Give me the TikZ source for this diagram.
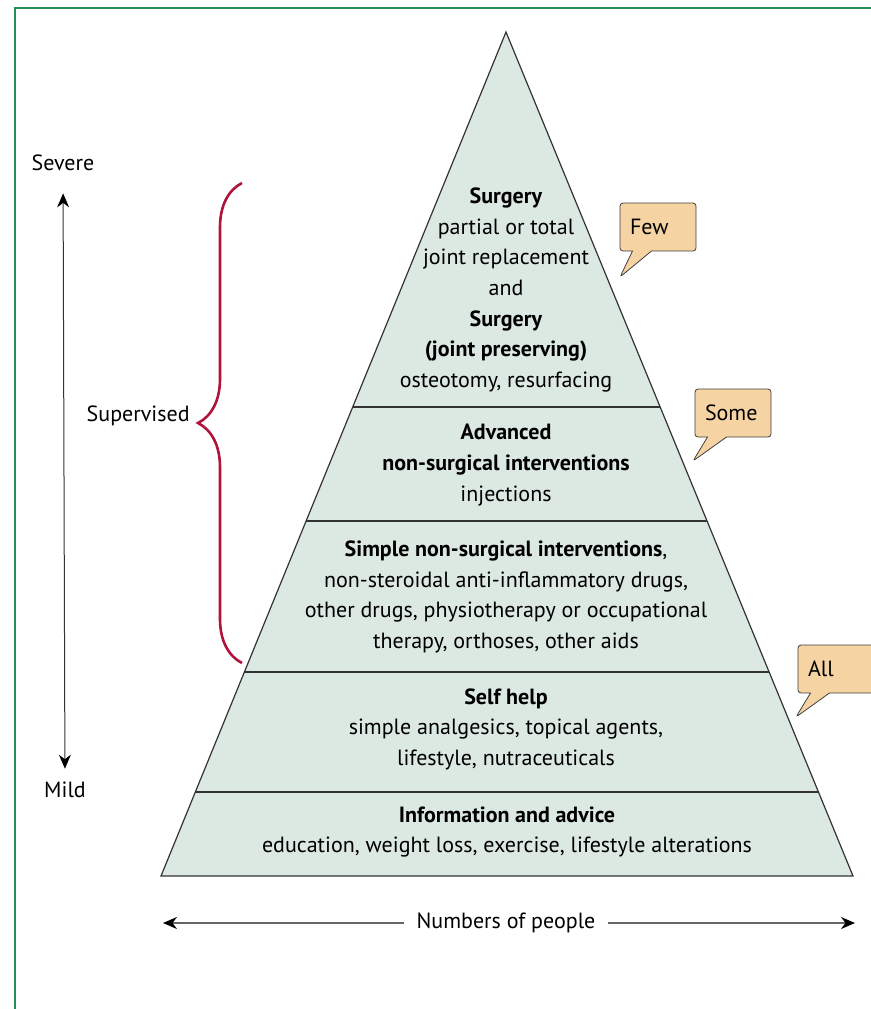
\documentclass[tikz,border=0pt]{standalone}
\usepackage{fontspec}
\setmainfont{PT Sans}
\usetikzlibrary{calc,arrows.meta,shapes.callouts,decorations.pathreplacing}

\definecolor{pyrfill}{RGB}{220,232,226}
\definecolor{bubblefill}{RGB}{246,211,163}
\definecolor{bracered}{RGB}{176,20,60}
\definecolor{framegreen}{RGB}{40,140,90}

\tikzset{
  tier/.style={align=center, inner sep=0pt, font=\fontsize{11}{15.3}\selectfont},
  sidetext/.style={inner sep=0pt, font=\fontsize{11}{12}\selectfont},
  bubble/.style={rectangle callout, draw=black!75, fill=bubblefill, rounded corners=1.5pt,
    minimum height=24pt, text width=28pt, align=left, inner xsep=5pt,
    callout pointer width=9.5pt, font=\fontsize{11}{12}\selectfont},
  tierline/.style={draw=black!80, line width=0.6pt}
}

\begin{document}
\begin{tikzpicture}[x=0.5pt, y=-0.5pt, >={Stealth[length=7pt,width=6pt,color=black]}]
        \useasboundingbox (0,0) rectangle (871,1009);
        \clip (0,0) rectangle (871,1009);
        \draw[framegreen, line width=1pt] (15,1009) -- (15,8) -- (871,8);

        % pyramid
        \coordinate (apex) at (506,32);
        \coordinate (bl) at (161,876);
        \coordinate (br) at (853,876);
        \filldraw[tierline, fill=pyrfill] (apex) -- (bl) -- (br) -- cycle;
        \foreach \y in {407,521,672,792}
            \draw[tierline] ($(apex)!{(\y-32)/844}!(bl)$) -- ($(apex)!{(\y-32)/844}!(br)$);

        \node[tier] (surgery) at (506,290) {\textbf{Surgery}\\partial or total\\joint replacement\\and\\\textbf{Surgery}\\\textbf{(joint preserving)}\\osteotomy, resurfacing};
        \node[tier] (advanced) at (506,465) {\textbf{Advanced}\\\textbf{non-surgical interventions}\\injections};
        \node[tier] (simple) at (506,597) {\textbf{Simple non-surgical interventions},\\non-steroidal anti-inflammatory drugs,\\other drugs, physiotherapy or occupational\\therapy, orthoses, other aids};
        \node[tier] (selfhelp) at (506,729) {\textbf{Self help}\\simple analgesics, topical agents,\\lifestyle, nutraceuticals};
        \node[tier] (info) at (507,832) {\textbf{Information and advice}\\education, weight loss, exercise, lifestyle alterations};

        % callouts
        \coordinate (fewtip) at (620,277);
        \coordinate (sometip) at (693,461);
        \coordinate (alltip) at (796,717);
        \node[bubble, callout absolute pointer={(fewtip)}] (few) at (658,227) {Few};
        \node[bubble, callout absolute pointer={(sometip)}] (some) at (733,413) {Some};
        \node[bubble, callout absolute pointer={(alltip)}] (all) at (836,669) {All};

        % severity axis
        \node[sidetext] (severe) at (63,163) {Severe};
        \node[sidetext] (mild) at (65,790) {Mild};
        \draw[<->, black!80, line width=0.5pt, shorten <=11pt, shorten >=6.5pt] (severe) -- (mild);

        \node[sidetext, anchor=east] (supervised) at (190,416) {Supervised};
        \draw[bracered, line width=1.3pt, decorate, decoration={brace, amplitude=22pt}] (242,663) -- (242,183);

        % people axis
        \node[sidetext, inner xsep=6pt] (people) at (506,923) {Numbers of people};
        \coordinate (pleft) at (163,923);
        \coordinate (pright) at (855,923);
        \draw[->, black!60, line width=1pt] (people) -- (pleft);
        \draw[->, black!60, line width=1pt] (people) -- (pright);
    \end{tikzpicture}
\end{document}
